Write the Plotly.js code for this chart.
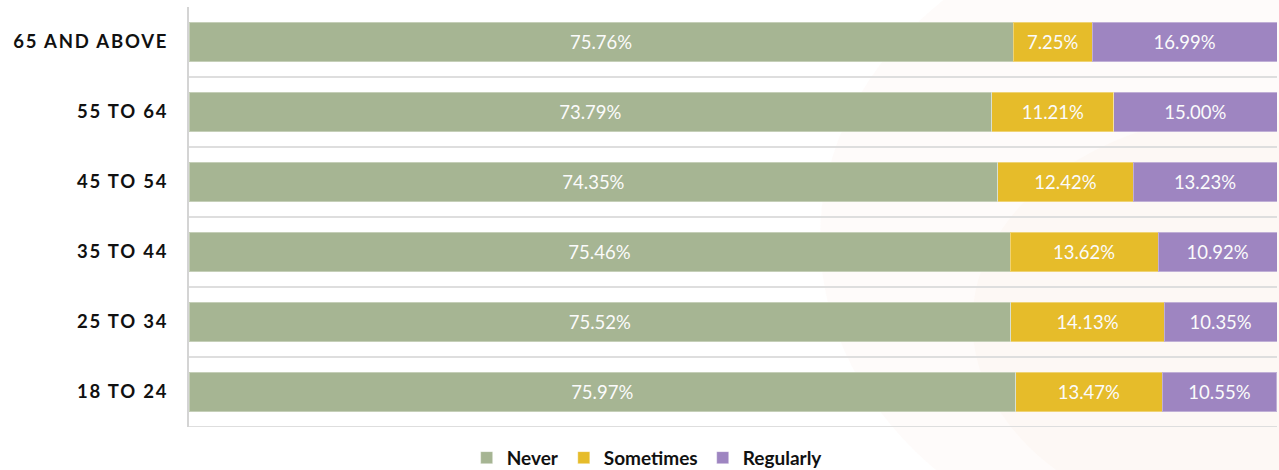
<!DOCTYPE html>
<html>
<head>
<meta charset="utf-8">
<script src="https://cdn.plot.ly/plotly-3.0.1.min.js"></script>
<style>
  html, body { margin: 0; padding: 0; background: #ffffff; }
  #chart { width: 1279px; height: 470px; }
  .ytick text { letter-spacing: 1.8px; }
</style>
</head>
<body>
<div id="chart"></div>
<script>
const categories = ["18 TO 24", "25 TO 34", "35 TO 44", "45 TO 54", "55 TO 64", "65 AND ABOVE"];
const never     = [75.97, 75.52, 75.46, 74.35, 73.79, 75.76];
const sometimes = [13.47, 14.13, 13.62, 12.42, 11.21, 7.25];
const regularly = [10.55, 10.35, 10.92, 13.23, 15.00, 16.99];
const seriesNames = ["Never", "Sometimes", "Regularly"];
const seriesColors = ["#a6b593", "#e6bc2a", "#9e85c1"];
const seriesValues = [never, sometimes, regularly];

const labelFont = "Lato, 'Open Sans', sans-serif";

const traces = seriesValues.map((vals, k) => ({
  type: "bar",
  orientation: "h",
  name: seriesNames[k],
  y: categories,
  x: vals,
  marker: { color: seriesColors[k], line: { color: "rgba(255,255,255,0.35)", width: 1 } },
  texttemplate: "%{x:.2f}%",
  textposition: "inside",
  insidetextanchor: "middle",
  constraintext: "none",
  textfont: { family: labelFont, size: 18.5, color: "#fbfbfb" },
  hoverinfo: "skip"
}));

const shapes = [
  { type: "circle", xref: "paper", yref: "paper", x0: 0.58, x1: 1.35, y0: -0.35, y1: 1.25,
    fillcolor: "rgba(240,170,140,0.045)", line: { width: 0 }, layer: "below" },
  { type: "circle", xref: "paper", yref: "paper", x0: 0.72, x1: 1.25, y0: -0.25, y1: 0.75,
    fillcolor: "rgba(240,170,140,0.04)", line: { width: 0 }, layer: "below" }
];
categories.forEach((c, i) => {
  shapes.push({
    type: "line", xref: "paper", yref: "y", x0: 0, x1: 1, y0: i - 0.5, y1: i - 0.5,
    line: { color: "#dedede", width: 2 }, layer: "below"
  });
});

const layout = {
  width: 1279, height: 470,
  margin: { l: 189, r: 2, t: 7, b: 43 },
  paper_bgcolor: "#ffffff",
  plot_bgcolor: "rgba(0,0,0,0)",
  barmode: "stack",
  bargap: 0.436,
  showlegend: true,
  legend: {
    orientation: "h",
    xref: "container", yref: "container",
    x: 0.506, xanchor: "center",
    y: 0.026, yanchor: "middle",
    font: { family: labelFont, size: 19, color: "#111111", weight: "bold" },
    traceorder: "normal",
    itemwidth: 30
  },
  xaxis: {
    range: [0, 100], showgrid: false, zeroline: false, showticklabels: false,
    showline: false, fixedrange: true
  },
  yaxis: {
    type: "category",
    categoryorder: "array", categoryarray: categories,
    range: [-0.5, categories.length - 0.5],
    showgrid: false, zeroline: false,
    showline: true, linecolor: "#d4d4d4", linewidth: 2,
    ticks: "", ticklabelstandoff: 15,
    tickfont: { family: labelFont, size: 18.5, color: "#111111", weight: "bold" },
    fixedrange: true
  },
  shapes: shapes
};

Plotly.newPlot("chart", traces, layout, { displayModeBar: false, staticPlot: true });
</script>
</body>
</html>
